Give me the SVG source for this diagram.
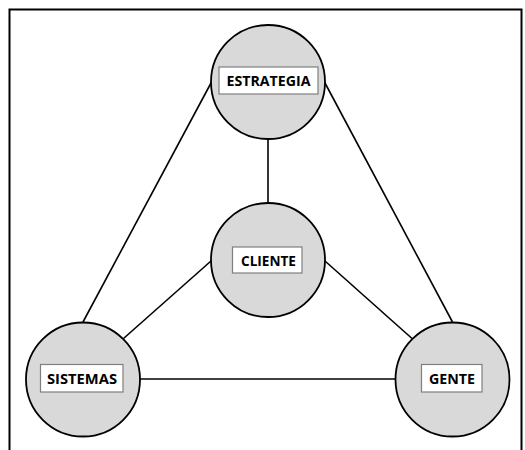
<svg xmlns="http://www.w3.org/2000/svg" width="525" height="450" viewBox="0 0 525 450">
<style>
.node circle{fill:#d9d9d9;stroke:#000;stroke-width:1.8}
.node rect{fill:#fff;stroke:#7f7f7f;stroke-width:1.2}
.node text{font-family:"Open Sans","Liberation Sans",sans-serif;font-weight:bold;font-size:14.5px;fill:#000;text-anchor:middle}
#connectors line{stroke:#000;stroke-width:1.6}
</style>
<rect width="525" height="450" fill="#fff"/>
<path d="M9.5,452 V9.5 H521.5 V452" fill="none" stroke="#000" stroke-width="2"/>
<g id="connectors">
<line x1="211" y1="83" x2="83" y2="322"/>
<line x1="325" y1="83" x2="452.5" y2="322"/>
<line x1="268" y1="139" x2="268" y2="203"/>
<line x1="211" y1="261" x2="123.5" y2="338.5"/>
<line x1="325" y1="261" x2="412" y2="338.5"/>
<line x1="140" y1="379" x2="396" y2="379"/>
</g>
<g id="estrategia" class="node">
<circle cx="268" cy="82" r="57"/>
<rect x="219" y="67" width="99" height="27"/>
<text x="268.5" y="86" textLength="84" lengthAdjust="spacingAndGlyphs">ESTRATEGIA</text>
</g>
<g id="cliente" class="node">
<circle cx="268" cy="260" r="57"/>
<rect x="232.5" y="247" width="69.5" height="26"/>
<text x="268.5" y="266" textLength="55" lengthAdjust="spacingAndGlyphs">CLIENTE</text>
</g>
<g id="sistemas" class="node">
<circle cx="83" cy="379.5" r="57"/>
<rect x="40.5" y="364.5" width="82.5" height="27.5"/>
<text x="82" y="383.5" textLength="70" lengthAdjust="spacingAndGlyphs">SISTEMAS</text>
</g>
<g id="gente" class="node">
<circle cx="452.5" cy="379.5" r="57"/>
<rect x="421.5" y="364.5" width="60.5" height="27.5"/>
<text x="452" y="383.5" textLength="46" lengthAdjust="spacingAndGlyphs">GENTE</text>
</g>
</svg>
